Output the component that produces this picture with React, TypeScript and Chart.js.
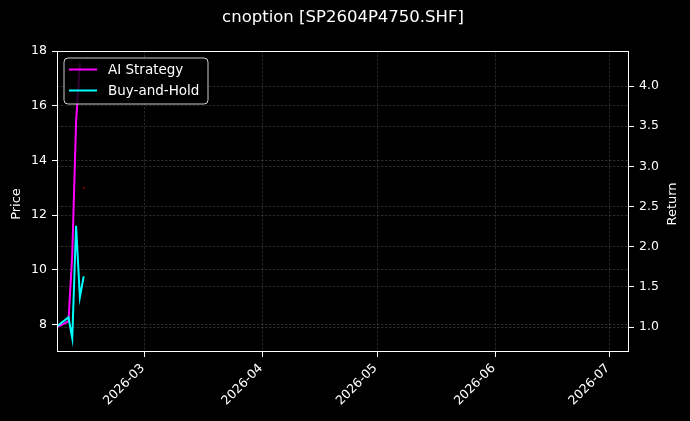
import { useEffect, useRef } from 'react';
import { Chart, registerables } from 'chart.js';

Chart.register(...registerables);

// ---- data ----
const dates = ['2026-02-06', '2026-02-09', '2026-02-10', '2026-02-11', '2026-02-12', '2026-02-13'];
const aiStrategy = [1.0, 1.07, 1.9, 3.55, 4.29, null];
const buyAndHold = [1.01, 1.12, 0.86, 2.26, 1.37, 1.63];
const markerDates = ['2026-02-13'];
const markerPrices = [13.0];
const xTickDates = ['2026-03-01', '2026-04-01', '2026-05-01', '2026-06-01', '2026-07-01'];
const xTickLabels = ['2026-03', '2026-04', '2026-05', '2026-06', '2026-07'];
const priceTicks = [8, 10, 12, 14, 16, 18];
const returnTicks = [1.0, 1.5, 2.0, 2.5, 3.0, 3.5, 4.0];
const xRange = ['2026-02-06', '2026-07-06'];

function dayNum(s: string): number {
  const [y, m, d] = s.split('-').map(Number);
  return (Date.UTC(y, m - 1, d) - Date.UTC(2026, 0, 1)) / 86400000;
}

const FONT = '"DejaVu Sans", sans-serif';
const GRID = 'rgba(255,255,255,0.2)';

const decorPlugin = {
  id: 'decor',
  beforeDraw(chart: any) {
    const ctx = chart.ctx;
    ctx.save();
    ctx.fillStyle = '#000';
    ctx.fillRect(0, 0, chart.width, chart.height);
    ctx.restore();
  },
  afterDatasetsDraw(chart: any) {
    const ctx = chart.ctx;
    const a = chart.chartArea;
    ctx.save();
    ctx.strokeStyle = '#fff';
    ctx.lineWidth = 1;
    ctx.setLineDash([]);
    ctx.strokeRect(Math.round(a.left) + 0.5, Math.round(a.top) + 0.5, Math.round(a.right - a.left) - 1, Math.round(a.bottom - a.top) - 1);

    // legend
    const lx = 64, ly = 58, lw = 144, lh = 46, r = 4;
    ctx.beginPath();
    ctx.moveTo(lx + r, ly);
    ctx.lineTo(lx + lw - r, ly);
    ctx.quadraticCurveTo(lx + lw, ly, lx + lw, ly + r);
    ctx.lineTo(lx + lw, ly + lh - r);
    ctx.quadraticCurveTo(lx + lw, ly + lh, lx + lw - r, ly + lh);
    ctx.lineTo(lx + r, ly + lh);
    ctx.quadraticCurveTo(lx, ly + lh, lx, ly + lh - r);
    ctx.lineTo(lx, ly + r);
    ctx.quadraticCurveTo(lx, ly, lx + r, ly);
    ctx.closePath();
    ctx.fillStyle = 'rgba(0,0,0,0.8)';
    ctx.fill();
    ctx.strokeStyle = 'rgba(255,255,255,0.8)';
    ctx.stroke();

    const items = [
      { label: 'AI Strategy', color: '#ff00ff', y: 69.5 },
      { label: 'Buy-and-Hold', color: '#00ffff', y: 90.5 },
    ];
    ctx.font = `13.5px ${FONT}`;
    ctx.textBaseline = 'middle';
    ctx.textAlign = 'left';
    for (const it of items) {
      ctx.strokeStyle = it.color;
      ctx.lineWidth = 2;
      ctx.beginPath();
      ctx.moveTo(69, it.y);
      ctx.lineTo(97, it.y);
      ctx.stroke();
      ctx.fillStyle = '#fff';
      ctx.fillText(it.label, 108, it.y + 1);
    }
    ctx.restore();
  },
  afterDraw(chart: any) {
    const ctx = chart.ctx;
    ctx.save();
    ctx.fillStyle = '#fff';
    ctx.textAlign = 'center';
    ctx.textBaseline = 'middle';
    ctx.font = `16.5px ${FONT}`;
    ctx.fillText('cnoption [SP2604P4750.SHF]', 343, 18);

    ctx.font = `13px ${FONT}`;
    ctx.save();
    ctx.translate(17, 204);
    ctx.rotate(-Math.PI / 2);
    ctx.fillText('Price', 0, 0);
    ctx.restore();

    ctx.save();
    ctx.translate(673, 204);
    ctx.rotate(-Math.PI / 2);
    ctx.fillText('Return', 0, 0);
    ctx.restore();
    ctx.restore();
  },
};

export default function App() {
  const ref = useRef<HTMLCanvasElement | null>(null);

  useEffect(() => {
    document.body.style.margin = '0';
    document.body.style.background = '#000';
    const canvas = ref.current;
    if (!canvas) return;

    const xs = dates.map(dayNum);
    const chart = new Chart(canvas, {
      type: 'line',
      data: {
        datasets: [
          {
            label: 'AI Strategy',
            data: xs.map((x, i) => ({ x, y: aiStrategy[i] as any })),
            borderColor: '#ff00ff',
            borderWidth: 2,
            pointRadius: 0,
            yAxisID: 'y1',
            order: 2,
            spanGaps: false,
          },
          {
            label: 'Buy-and-Hold',
            data: xs.map((x, i) => ({ x, y: buyAndHold[i] })),
            borderColor: '#00ffff',
            borderWidth: 2,
            pointRadius: 0,
            yAxisID: 'y1',
            order: 1,
          },
          {
            label: 'marker',
            data: markerDates.map((d, i) => ({ x: dayNum(d), y: markerPrices[i] })),
            showLine: false,
            pointRadius: 1.2,
            pointBackgroundColor: '#6a0000',
            pointBorderWidth: 0,
            yAxisID: 'y',
            order: 3,
          },
        ],
      },
      options: {
        animation: false,
        responsive: false,
        layout: { padding: { top: 51, left: 0, right: 0, bottom: 0 } },
        plugins: { legend: { display: false }, tooltip: { enabled: false }, title: { display: false } },
        scales: {
          x: {
            type: 'linear',
            position: 'bottom',
            min: dayNum(xRange[0]),
            max: dayNum(xRange[1]),
            afterBuildTicks: (s: any) => {
              s.ticks = xTickDates.map((d) => ({ value: dayNum(d) }));
            },
            afterFit: (s: any) => {
              s.height = 69;
            },
            ticks: {
              color: '#fff',
              font: { family: FONT, size: 12.5 },
              maxRotation: 45,
              minRotation: 45,
              padding: 4,
              labelOffset: -2,
              autoSkip: false,
              callback: (_v: any, i: number) => xTickLabels[i],
            },
            grid: { color: GRID, lineWidth: 0.8, tickColor: '#fff', tickLength: 5, tickWidth: 1, tickBorderDash: [] },
            border: { display: false, dash: [2.5, 1.5] },
          },
          y: {
            type: 'linear',
            position: 'left',
            min: 7,
            max: 18,
            afterBuildTicks: (s: any) => {
              s.ticks = priceTicks.map((v) => ({ value: v }));
            },
            afterFit: (s: any) => {
              s.width = 57;
            },
            ticks: { color: '#fff', font: { family: FONT, size: 12.5 }, padding: 5, callback: (v: any) => String(v) },
            grid: { color: GRID, lineWidth: 0.8, tickColor: '#fff', tickLength: 5, tickWidth: 1, tickBorderDash: [] },
            border: { display: false, dash: [2.5, 1.5] },
          },
          y1: {
            type: 'linear',
            position: 'right',
            min: 0.689,
            max: 4.436,
            afterBuildTicks: (s: any) => {
              s.ticks = returnTicks.map((v) => ({ value: v }));
            },
            afterFit: (s: any) => {
              s.width = 61;
            },
            ticks: { color: '#fff', font: { family: FONT, size: 12.5 }, padding: 5, callback: (v: any) => Number(v).toFixed(1) },
            grid: { color: GRID, lineWidth: 0.8, tickColor: '#fff', tickLength: 5, tickWidth: 1, tickBorderDash: [] },
            border: { display: false, dash: [2.5, 1.5] },
          },
        },
      },
      plugins: [decorPlugin],
    } as any);

    return () => chart.destroy();
  }, []);

  return (
    <div style={{ width: 690, height: 421, background: '#000' }}>
      <canvas ref={ref} width={690} height={421} style={{ display: 'block' }} />
    </div>
  );
}
